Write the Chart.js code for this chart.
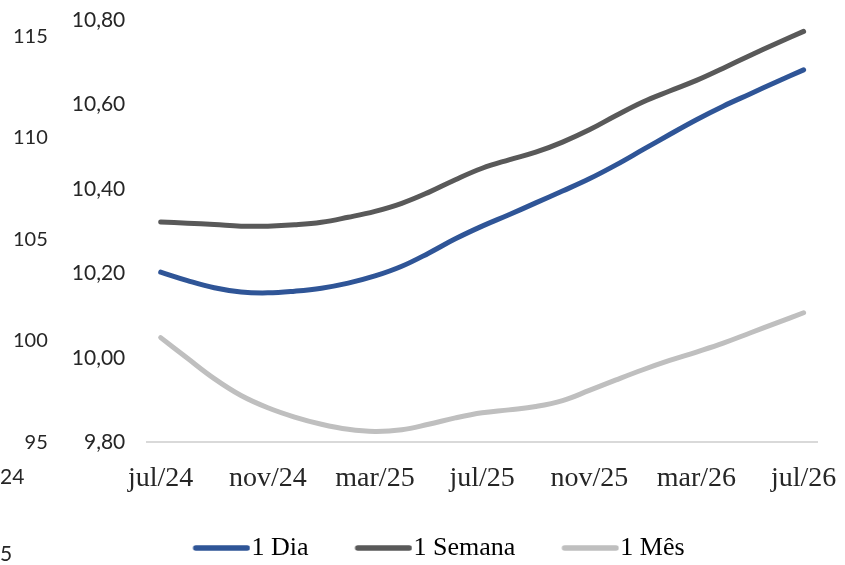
<!DOCTYPE html>
<html>
<head>
<meta charset="utf-8">
<script src="https://cdn.jsdelivr.net/npm/chart.js@4/dist/chart.umd.min.js"></script>
<style>
  body { margin: 0; background: #fff; }
  #wrap { position: relative; width: 845px; height: 565px; }
  .ghost { position: absolute; left: 0; font: 21px Lato, sans-serif; color: #262626; line-height: 20px; }
</style>
</head>
<body>
<div id="wrap">
  <canvas id="chart" width="845" height="565"></canvas>
  <div class="ghost" style="top:466px">24</div>
  <div class="ghost" style="top:543px">5</div>
</div>
<script>
// meses jul/24 .. jul/26
var months = ['jul/24', 'ago/24', 'set/24', 'out/24', 'nov/24', 'dez/24',
    'jan/25', 'fev/25', 'mar/25', 'abr/25', 'mai/25', 'jun/25',
    'jul/25', 'ago/25', 'set/25', 'out/25', 'nov/25', 'dez/25',
    'jan/26', 'fev/26', 'mar/26', 'abr/26', 'mai/26', 'jun/26', 'jul/26'];

var umDia = [10.203, 10.183, 10.166, 10.156, 10.154, 10.158, 10.165, 10.177, 10.194,
    10.217, 10.248, 10.282, 10.312, 10.339, 10.367, 10.395, 10.424, 10.457,
    10.493, 10.529, 10.564, 10.596, 10.625, 10.654, 10.682];
var umaSemana = [10.322, 10.319, 10.316, 10.312, 10.312, 10.315, 10.321, 10.333, 10.347,
    10.366, 10.392, 10.422, 10.449, 10.469, 10.487, 10.511, 10.540, 10.574,
    10.606, 10.632, 10.657, 10.686, 10.716, 10.745, 10.773];
var umMes = [10.048, 9.999, 9.951, 9.911, 9.882, 9.860, 9.843, 9.831, 9.826,
    9.830, 9.843, 9.858, 9.870, 9.877, 9.885, 9.899, 9.923, 9.948,
    9.972, 9.994, 10.014, 10.035, 10.059, 10.083, 10.107];

var seriesNames = ['1 Dia', '1 Semana', '1 Mês'];
var colors = ['#2F5597', '#595959', '#BFBFBF'];

function lineSet(label, data, color) {
    return {
        label: label,
        data: data,
        borderColor: color,
        backgroundColor: color,
        borderWidth: 5,
        borderCapStyle: 'round',
        pointRadius: 0,
        tension: 0.4
    };
}

// legend marker: short thick line, shifted right inside a wider sprite
function legendLine(color) {
    var c = document.createElement('canvas');
    c.width = 80;
    c.height = 8;
    var g = c.getContext('2d');
    g.strokeStyle = color;
    g.lineWidth = 5.5;
    g.lineCap = 'round';
    g.beginPath();
    g.moveTo(25.25, 4);
    g.lineTo(76.75, 4);
    g.stroke();
    return c;
}

// invisible grid, only used so tick length gives label offset
var hiddenGrid = { display: true, drawOnChartArea: false, drawTicks: true, color: 'rgba(0,0,0,0)' };

// legend sits a bit right of the centre in the original
var legendShift = {
    id: 'legendShift',
    afterLayout: function (c) {
        c.legend.left += 19;
        c.legend.right += 19;
    }
};

var ctx = document.getElementById('chart').getContext('2d');
var chart = new Chart(ctx, {
    type: 'line',
    data: {
        labels: months,
        datasets: [
            lineSet(seriesNames[0], umDia, colors[0]),
            lineSet(seriesNames[1], umaSemana, colors[1]),
            lineSet(seriesNames[2], umMes, colors[2])
        ]
    },
    plugins: [legendShift],
    options: {
        responsive: false,
        animation: false,
        layout: { padding: { left: 12, right: 28, top: 20, bottom: -6 } },
        plugins: {
            tooltip: { enabled: false },
            legend: {
                position: 'bottom',
                labels: {
                    font: { family: 'Liberation Serif', size: 26 },
                    color: '#262626',
                    usePointStyle: true,
                    pointStyleWidth: 56,
                    padding: 36,
                    generateLabels: function (c) {
                        return c.data.datasets.map(function (ds, i) {
                            return {
                                text: ds.label,
                                fillStyle: ds.borderColor,
                                strokeStyle: ds.borderColor,
                                lineWidth: 0,
                                pointStyle: legendLine(ds.borderColor),
                                datasetIndex: i
                            };
                        });
                    }
                }
            }
        },
        scales: {
            x: {
                offset: true,
                grid: Object.assign({}, hiddenGrid, { tickLength: 15 }),
                border: { display: true, color: '#D9D9D9', width: 2 },
                ticks: {
                    autoSkip: false,
                    maxRotation: 0,
                    padding: 4,
                    color: '#262626',
                    font: { family: 'Liberation Serif', size: 28 },
                    callback: function (v, i) { return i % 4 === 0 ? months[i] : ''; }
                }
            },
            y: {
                position: 'left',
                weight: 0,
                min: 9.8,
                max: 10.8,
                grid: Object.assign({}, hiddenGrid, { tickLength: 15 }),
                border: { display: false },
                ticks: {
                    stepSize: 0.2,
                    padding: 7,
                    color: '#262626',
                    font: { family: 'Lato', size: 21 },
                    callback: function (v) { return v.toFixed(2).replace('.', ','); }
                }
            },
            y2: {
                type: 'linear',
                position: 'left',
                weight: 1,
                min: 95,
                max: 115.8,
                grid: Object.assign({}, hiddenGrid, { tickLength: 16 }),
                border: { display: false },
                ticks: {
                    stepSize: 5,
                    includeBounds: false,
                    padding: 1,
                    color: '#262626',
                    font: { family: 'Lato', size: 20 },
                    callback: function (v) { return v % 5 === 0 ? String(v) : ''; }
                }
            }
        }
    }
});
</script>
</body>
</html>
